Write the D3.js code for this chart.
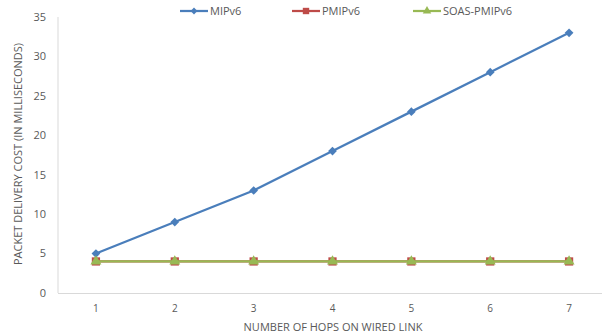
<!DOCTYPE html>
<html>
<head>
<meta charset="utf-8">
<script src="https://cdn.jsdelivr.net/npm/d3@7"></script>
<style>
	body { margin: 0; background: #fff; }
	text { font-family: 'Open Sans', sans-serif; fill: #595959; }
</style>
</head>
<body>
<svg id="chart" width="602" height="336"></svg>
<script>
// data
const hops = [1, 2, 3, 4, 5, 6, 7];
const mipv6 = [5, 9, 13, 18, 23, 28, 33];
const pmipv6 = [4, 4, 4, 4, 4, 4, 4];
const soasPmipv6 = [4, 4, 4, 4, 4, 4, 4];
const yTicks = [0, 5, 10, 15, 20, 25, 30, 35];

// diamond = square turned 45 degrees (d3's own diamond is too tall)
const series = [
	{name: 'MIPv6', values: mipv6, color: '#4a7ebb', symbol: d3.symbolSquare, rot: 45, size: 38},
	{name: 'PMIPv6', values: pmipv6, color: '#be4b48', symbol: d3.symbolSquare, rot: 0, size: 68},
	{name: 'SOAS-PMIPv6', values: soasPmipv6, color: '#98b954', symbol: d3.symbolTriangle, rot: 0, size: 52}
];

const svg = d3.select('#chart');

// plot area runs off the right edge like the original crop
const xScale = d3.scalePoint().domain(hops).range([56.5, 608.5]).padding(0.5);
const yScale = d3.scaleLinear().domain([0, 35]).range([293, 17]);

// axis lines
svg.append('line')
	.attr('x1', 58).attr('x2', 58)
	.attr('y1', yScale(35)).attr('y2', yScale(0))
	.attr('stroke', '#d9d9d9');
svg.append('line')
	.attr('x1', 58).attr('x2', 602)
	.attr('y1', yScale(0) + 0.5).attr('y2', yScale(0) + 0.5)
	.attr('stroke', '#d9d9d9');

// tick labels
svg.append('g').selectAll('text')
	.data(yTicks)
	.enter().append('text')
	.attr('x', 46)
	.attr('y', d => yScale(d))
	.attr('dy', '0.35em')
	.attr('text-anchor', 'end')
	.style('font-size', '11px')
	.text(d => d);

svg.append('g').selectAll('text')
	.data(hops)
	.enter().append('text')
	.attr('x', d => xScale(d))
	.attr('y', 312)
	.attr('text-anchor', 'middle')
	.style('font-size', '10px')
	.text(d => d);

// axis titles
svg.append('text')
	.attr('x', 333)
	.attr('y', 331)
	.attr('text-anchor', 'middle')
	.style('font-size', '11px')
	.text('NUMBER OF HOPS ON WIRED LINK');

svg.append('text')
	.attr('transform', 'translate(22, 154) rotate(-90)')
	.attr('text-anchor', 'middle')
	.style('font-size', '11px')
	.text('PACKET DELIVERY COST (IN MILLISECONDS)');

// lines and markers
const lineGenerator = d3.line()
	.x((d, i) => xScale(hops[i]))
	.y(d => yScale(d));

const groups = svg.append('g').selectAll('g')
	.data(series)
	.enter().append('g');

groups.append('path')
	.attr('fill', 'none')
	.attr('stroke', d => d.color)
	.attr('stroke-width', 2.25)
	.attr('d', d => lineGenerator(d.values));

groups.each(function(s) {
	d3.select(this).selectAll('path.marker')
		.data(s.values)
		.enter().append('path')
		.attr('class', 'marker')
		.attr('transform', (d, i) => `translate(${xScale(hops[i])}, ${yScale(d)}) rotate(${s.rot})`)
		.attr('d', d3.symbol().type(s.symbol).size(s.size))
		.attr('fill', s.color);
});

// legend
const legendX = [180, 292, 413];
const legend = svg.append('g').selectAll('g')
	.data(series)
	.enter().append('g')
	.attr('transform', (d, i) => `translate(${legendX[i]}, 11)`);

legend.append('line')
	.attr('x1', 0).attr('x2', 28)
	.attr('stroke', d => d.color)
	.attr('stroke-width', 2.25);
legend.append('path')
	.attr('transform', d => `translate(14, 0) rotate(${d.rot})`)
	.attr('d', d => d3.symbol().type(d.symbol).size(d.size * 0.6)())
	.attr('fill', d => d.color);
legend.append('text')
	.attr('x', 30)
	.attr('dy', '0.35em')
	.style('font-size', '11px')
	.text(d => d.name);
</script>
</body>
</html>
